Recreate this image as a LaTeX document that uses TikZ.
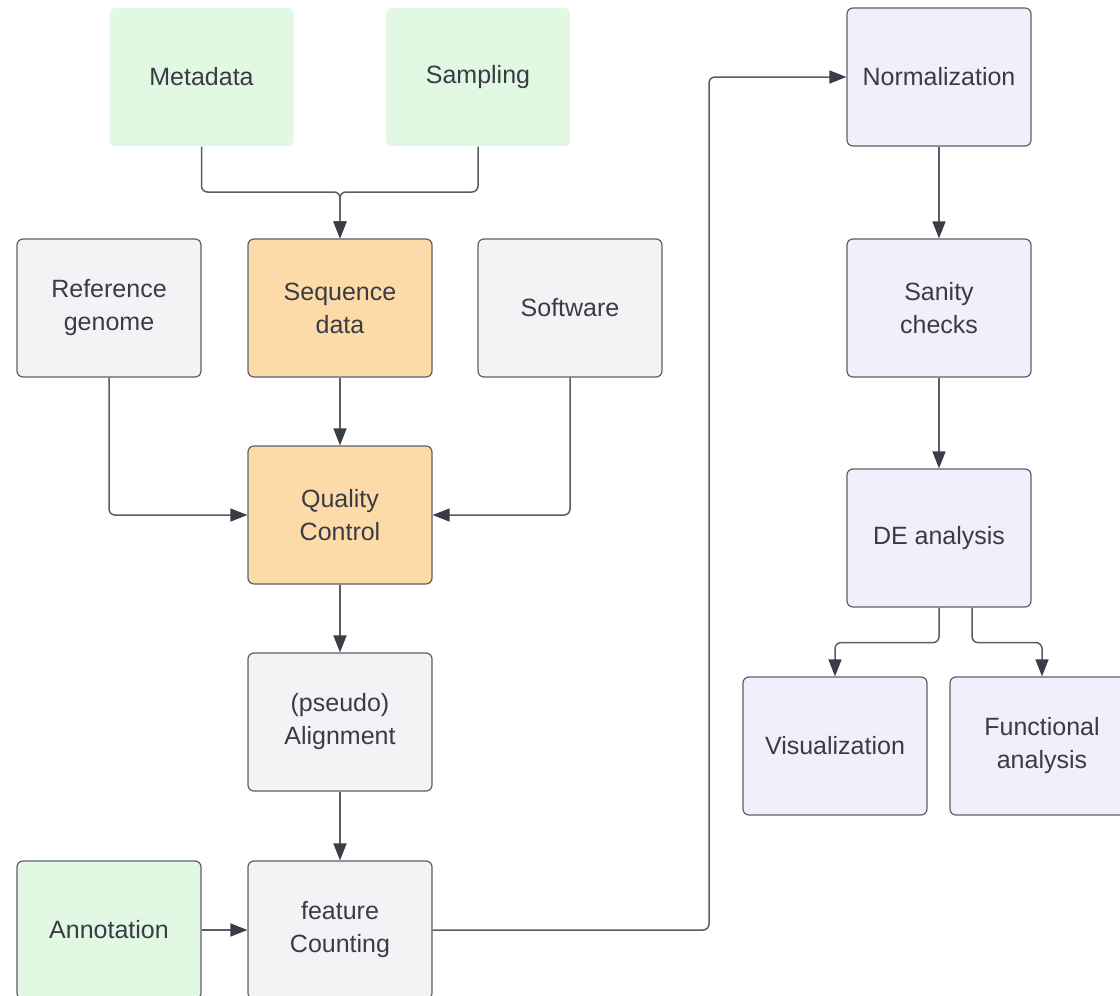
\documentclass[tikz,border=0pt]{standalone}
\usepackage{fontspec}
\setmainfont{Liberation Sans}
\usetikzlibrary{arrows.meta}
\definecolor{greenfill}{HTML}{E1F8E2}
\definecolor{grayfill}{HTML}{F2F3F5}
\definecolor{orangefill}{HTML}{FDDBA8}
\definecolor{lavfill}{HTML}{F0F0FC}
\definecolor{edgecol}{HTML}{5E6066}
\definecolor{linecol}{HTML}{5A5D63}
\definecolor{tipcol}{HTML}{3A3D46}
\definecolor{textcol}{HTML}{3A3B45}
\tikzset{
  box/.style={rectangle, rounded corners=6pt, minimum width=184pt, minimum height=138pt,
    inner sep=0pt, align=center, text=textcol, draw=edgecol, line width=1.2pt,
    font=\fontsize{25}{33}\selectfont},
  greenbox/.style={box, fill=greenfill},
  plainbox/.style={box, fill=greenfill, draw=none},
  graybox/.style={box, fill=grayfill},
  orangebox/.style={box, fill=orangefill},
  lavbox/.style={box, fill=lavfill},
  conn/.style={draw=linecol, line width=1.5pt, rounded corners=6pt,
    -{Triangle[length=17pt,width=13pt,color=tipcol,fill=tipcol]}},
}
\begin{document}
\begin{tikzpicture}[x=1pt,y=-1pt]
\clip (0,0) rectangle (1120,996);
\fill[white] (0,0) rectangle (1120,996);

% left part of the pipeline
\node[plainbox]  (meta)  at (201.5,77) {Metadata};
\node[plainbox]  (samp)  at (478,77)   {Sampling};
\node[graybox]   (ref)   at (109,308)  {Reference\\genome};
\node[orangebox] (seq)   at (340,308)  {Sequence\\data};
\node[graybox]   (soft)  at (570,308)  {Software};
\node[orangebox] (qc)    at (340,515)  {Quality\\Control};
\node[graybox]   (align) at (340,722)  {(pseudo)\\Alignment};
\node[greenbox]  (annot) at (109,930)  {Annotation};
\node[graybox]   (count) at (340,930)  {feature\\Counting};

% right part of the pipeline
\node[lavbox] (norm) at (939,77)   {Normalization};
\node[lavbox] (san)  at (939,308)  {Sanity\\checks};
\node[lavbox] (de)   at (939,538)  {DE analysis};
\node[lavbox] (vis)  at (835,746)  {Visualization};
\node[lavbox] (func) at (1042,746) {Functional\\analysis};

\coordinate (join) at (340,192);
\coordinate (up)   at (709,930);

\draw[conn] (meta.south) |- (join) -- (seq.north);
\draw[conn] (samp.south) |- (join) -- (seq.north);
\draw[conn] (seq) -- (qc);
\draw[conn] (ref.south) |- (qc.west);
\draw[conn] (soft.south) |- (qc.east);
\draw[conn] (qc) -- (align);
\draw[conn] (align) -- (count);
\draw[conn] (annot) -- (count);
\draw[conn] (count.east) -- (up) |- (norm.west);
\draw[conn] (norm) -- (san);
\draw[conn] (san) -- (de);
\draw[conn] (de.south) -- ++(0,35) -| (vis.north);
\draw[conn] ([xshift=33pt]de.south) -- ++(0,35) -| (func.north);
\end{tikzpicture}
\end{document}
